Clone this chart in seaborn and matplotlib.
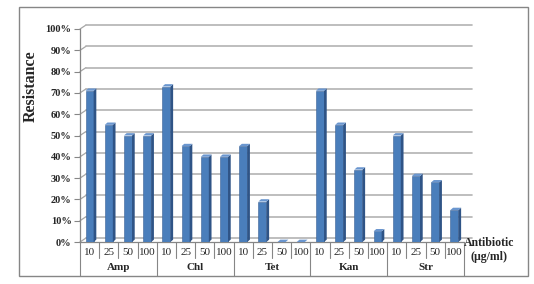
import matplotlib
matplotlib.use("Agg")
import matplotlib.pyplot as plt
import seaborn as sns
import pandas as pd
from matplotlib.patches import Polygon, Rectangle
from matplotlib.transforms import blended_transform_factory

antibiotics = ["Amp", "Chl", "Tet", "Kan", "Str"]
doses = ["10", "25", "50", "100"]
amp = [71, 55, 50, 50]
chl = [73, 45, 40, 40]
tet = [45, 19, 0, 0]
kan = [71, 55, 34, 5]
strp = [50, 31, 28, 15]
yticks = [0, 10, 20, 30, 40, 50, 60, 70, 80, 90, 100]

values = amp + chl + tet + kan + strp
labels = [f"{a}-{d}" for a in antibiotics for d in doses]
df = pd.DataFrame({"cat": labels, "val": values})

sns.set_theme(style="white")
plt.rcParams["font.family"] = ["Liberation Serif", "DejaVu Serif"]

W, H = 534, 284
AX_L, AX_R, AX_B, AX_T = 80, 464, 242, 29
fig = plt.figure(figsize=(W / 100, H / 100), dpi=100)
ax = fig.add_axes([AX_L / W, 1 - AX_B / H, (AX_R - AX_L) / W, (AX_B - AX_T) / H])

bar_color = "#4A7EBB"
side_color = "#2F5486"
sns.barplot(data=df, x="cat", y="val", color=bar_color, width=0.42,
            saturation=1, ax=ax, zorder=3, edgecolor="#3A6296", linewidth=0.4)

# pseudo-3D side and top faces derived from the bar patches
dx, dy = 0.14, 1.1
for p in list(ax.patches):
    x0 = p.get_x()
    w = p.get_width()
    h = p.get_height()
    side = Polygon([[x0 + w, 0], [x0 + w + dx, dy], [x0 + w + dx, h + dy], [x0 + w, h]],
                   closed=True, facecolor=side_color, edgecolor="none", zorder=3)
    top = Polygon([[x0, h], [x0 + dx, h + dy], [x0 + w + dx, h + dy], [x0 + w, h]],
                  closed=True, facecolor="#6A96CF", edgecolor="none", zorder=3)
    ax.add_patch(side)
    ax.add_patch(top)

n = len(labels)
ax.set_xlim(-0.5, n - 0.5)
ax.set_ylim(0, 100)
ax.set_yticks(yticks)
ax.set_yticklabels([f"{t}%" for t in yticks], fontsize=7.5, fontweight="bold")
ax.set_xticks(range(n))
ax.set_xticklabels([d for a in antibiotics for d in doses], fontsize=8)
ax.tick_params(axis="x", length=0, pad=4.5)
ax.tick_params(axis="y", length=4, width=0.8, color="#868686", left=True, pad=2)
ax.set_xlabel("")
ax.set_ylabel("Resistance", fontsize=11.5, fontweight="bold")
ax.yaxis.set_label_coords((39 - AX_L) / (AX_R - AX_L), (AX_B - 86) / (AX_B - AX_T))

# 3D-style gridlines on the back wall
px_per_pct = (AX_B - AX_T) / 100
back_dx = 6 / (AX_R - AX_L)
back_dy = 4 / px_per_pct
grid_end = (472 - AX_L) / (AX_R - AX_L)
ytr = ax.get_yaxis_transform()
for t in yticks:
    ax.plot([0, back_dx], [t, t + back_dy], transform=ytr, color="#A6A6A6",
            lw=0.9, zorder=1, clip_on=False)
    ax.plot([back_dx, grid_end], [t + back_dy, t + back_dy], transform=ytr,
            color="#B3B3B3", lw=1.2, zorder=1, clip_on=False)

for s in ["top", "right"]:
    ax.spines[s].set_visible(False)
ax.spines["left"].set_color("#868686")
ax.spines["bottom"].set_color("#868686")
ax.spines["left"].set_linewidth(0.9)
ax.spines["bottom"].set_linewidth(0.9)

# category separator lines and group labels
tr = blended_transform_factory(ax.transData, fig.transFigure)
y_top = 1 - 242 / H
y_short = 1 - 258 / H
y_long = 1 - 276 / H
for i in range(n + 1):
    xb = i - 0.5
    yb = y_long if i % 4 == 0 else y_short
    ax.plot([xb, xb], [y_top, yb], transform=tr, color="#868686", lw=0.8, clip_on=False)
for g, a in enumerate(antibiotics):
    ax.text(g * 4 + 1.5, 1 - 267 / H, a, transform=tr, ha="center", va="center",
            fontsize=8, fontweight="bold")

fig.text(489 / W, 1 - 243 / H, "Antibiotic", ha="center", va="center",
         fontsize=8.5, fontweight="bold")
fig.text(489 / W, 1 - 257 / H, "(µg/ml)", ha="center", va="center",
         fontsize=8.5, fontweight="bold")

fig.patches.append(Rectangle((19 / W, 1 - 276 / H), (528 - 19) / W, (276 - 7) / H,
                             transform=fig.transFigure, fill=False,
                             edgecolor="#868686", lw=1))

fig.savefig("out.png", dpi=100)
